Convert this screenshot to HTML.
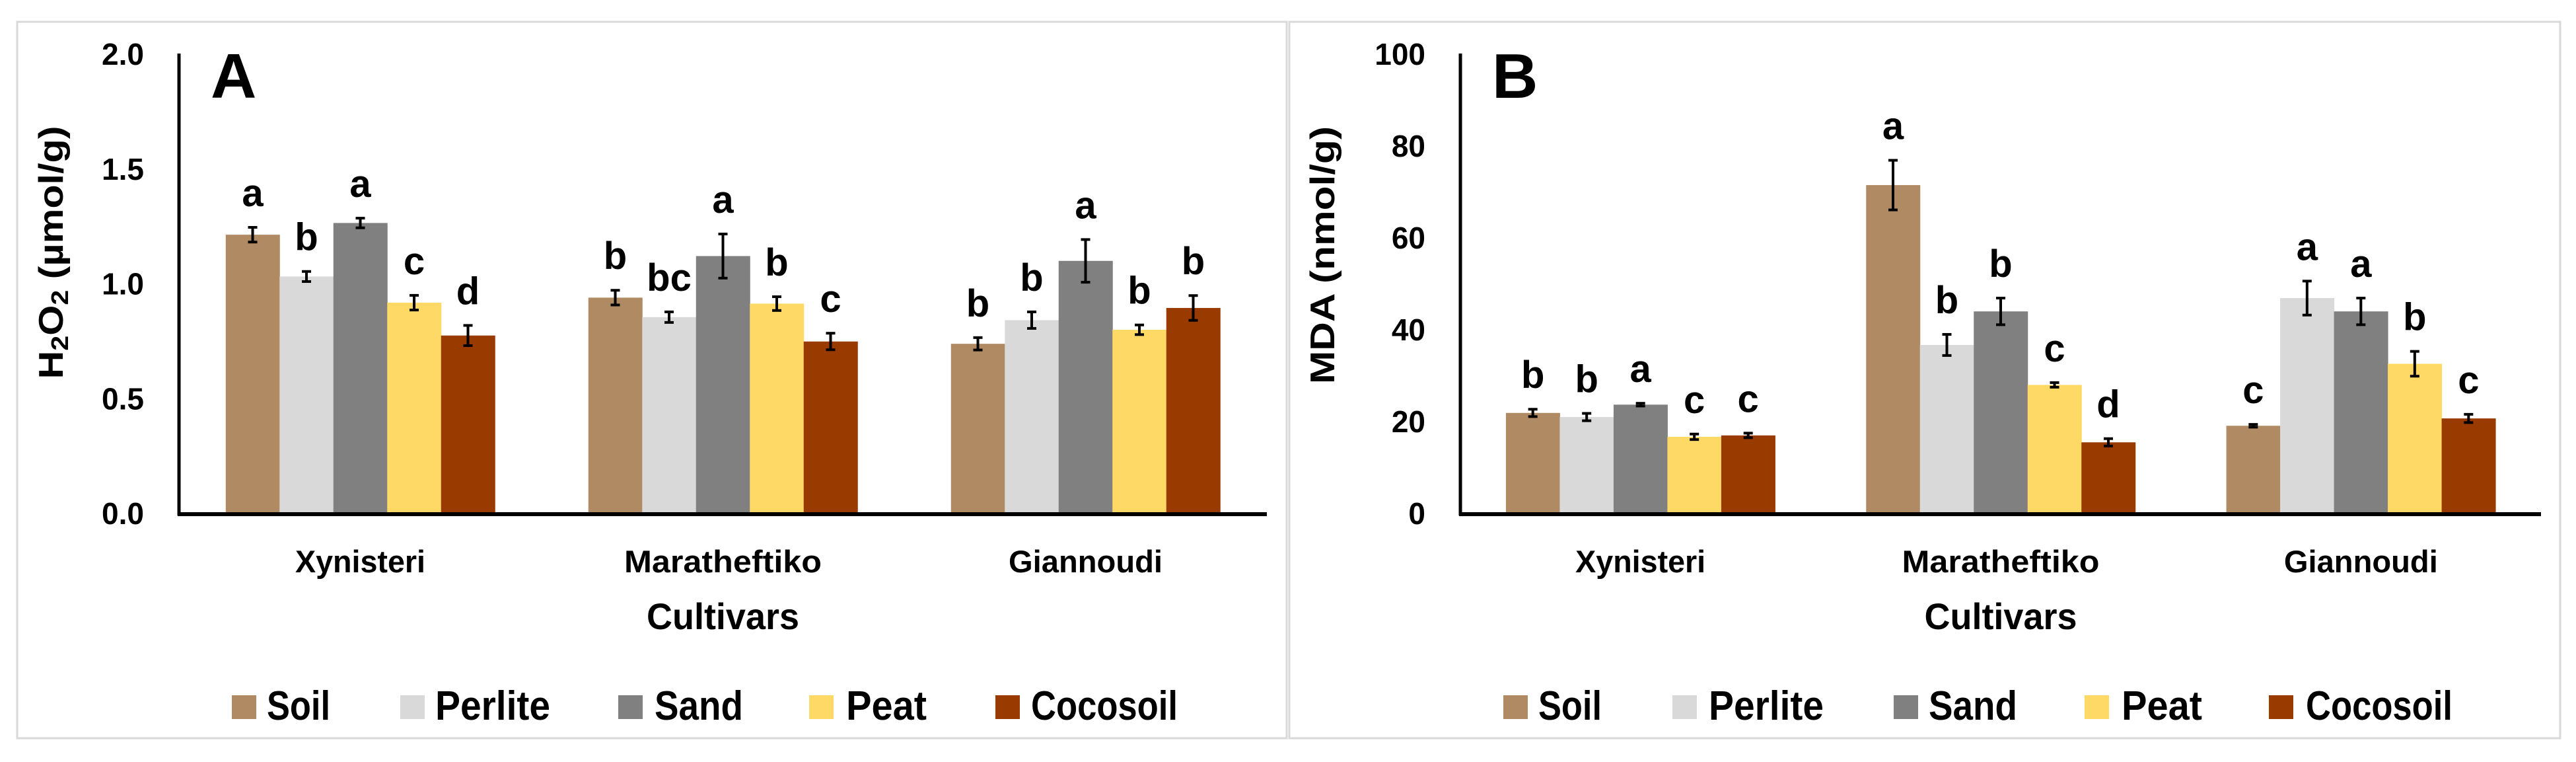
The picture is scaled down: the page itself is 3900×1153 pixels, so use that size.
<!DOCTYPE html>
<html><head><meta charset="utf-8">
<style>
html,body{margin:0;padding:0;background:#fff;}
svg{display:block;font-family:"Liberation Sans",Arial,sans-serif;font-weight:bold;}
</style></head>
<body>
<svg id="fig" width="3900" height="1153" viewBox="0 0 3900 1153" xmlns="http://www.w3.org/2000/svg"></svg>
<script>
// ---- shared data ----
const categories = ["Xynisteri", "Maratheftiko", "Giannoudi"];
const seriesNames = ["Soil", "Perlite", "Sand", "Peat", "Cocosoil"];
const seriesColors = ["#b08a63", "#d9d9d9", "#808080", "#ffd966", "#993a00"];

// ---- Panel A: H2O2 ----
const h2o2Soil     = [1.214, 0.940, 0.739];
const h2o2Perlite  = [1.032, 0.855, 0.842];
const h2o2Sand     = [1.265, 1.121, 1.100];
const h2o2Peat     = [0.918, 0.914, 0.800];
const h2o2Coco     = [0.775, 0.749, 0.895];
const h2o2ErrSoil    = [0.032, 0.032, 0.027];
const h2o2ErrPerlite = [0.022, 0.023, 0.036];
const h2o2ErrSand    = [0.021, 0.096, 0.093];
const h2o2ErrPeat    = [0.032, 0.030, 0.021];
const h2o2ErrCoco    = [0.044, 0.036, 0.054];
const h2o2LettersSoil    = ["a", "b", "b"];
const h2o2LettersPerlite = ["b", "bc", "b"];
const h2o2LettersSand    = ["a", "a", "a"];
const h2o2LettersPeat    = ["c", "b", "b"];
const h2o2LettersCoco    = ["d", "c", "b"];
const h2o2Ticks = ["0.0", "0.5", "1.0", "1.5", "2.0"];
const h2o2TickValues = [0, 0.5, 1.0, 1.5, 2.0];

// ---- Panel B: MDA ----
const mdaSoil     = [21.9, 71.5, 19.1];
const mdaPerlite  = [21.0, 36.7, 46.9];
const mdaSand     = [23.7, 44.0, 44.0];
const mdaPeat     = [16.7, 28.0, 32.6];
const mdaCoco     = [17.0, 15.5, 20.7];
const mdaErrSoil    = [0.8, 5.4, 0.3];
const mdaErrPerlite = [0.8, 2.3, 3.7];
const mdaErrSand    = [0.3, 2.9, 2.9];
const mdaErrPeat    = [0.6, 0.5, 2.7];
const mdaErrCoco    = [0.5, 0.8, 0.9];
const mdaLettersSoil    = ["b", "a", "c"];
const mdaLettersPerlite = ["b", "b", "a"];
const mdaLettersSand    = ["a", "b", "a"];
const mdaLettersPeat    = ["c", "c", "b"];
const mdaLettersCoco    = ["c", "d", "c"];
const mdaTicks = ["0", "20", "40", "60", "80", "100"];
const mdaTickValues = [0, 20, 40, 60, 80, 100];

const NS = "http://www.w3.org/2000/svg";
const svg = document.getElementById("fig");
function mk(tag, attrs, parent) {
  const e = document.createElementNS(NS, tag);
  for (const k in attrs) e.setAttribute(k, attrs[k]);
  (parent || svg).appendChild(e);
  return e;
}

function drawPanel(cfg) {
  const g = mk("g", {});
  
  
  // frame
  const fr = mk("rect", {x: cfg.frameX, y: 33, width: cfg.frameW, height: 1084, fill: "#fff", stroke: "#d9d9d9", "stroke-width": 3}, g);
  
  

  const x0 = cfg.axisX, x1 = cfg.axisEnd, yTop = 82, yZero = 777;
  const yScale = v => yZero - (v - cfg.yMin) / (cfg.yMax - cfg.yMin) * (yZero - yTop);
  const catW = (x1 - x0) / categories.length;
  const barW = 81.5;
  const xBar = (ci, si) => x0 + catW * (ci + 0.5) - barW * seriesNames.length / 2 + barW * si;

  // bars
  cfg.values.forEach((arr, si) => {
    arr.forEach((v, ci) => {
      const y = yScale(v);
      const r = mk("rect", {x: xBar(ci, si), y: y, width: barW + 0.5, height: yZero - y, fill: seriesColors[si]}, g);
      
      
    });
  });
  // error bars + letters
  cfg.values.forEach((arr, si) => {
    arr.forEach((v, ci) => {
      const cx = xBar(ci, si) + barW / 2;
      const e = cfg.errs[si][ci];
      const yt = yScale(v + e), yb = yScale(v - e);
      const eg = mk("g", {stroke: "#000", "stroke-width": 4}, g);
      
      
      mk("line", {x1: cx, x2: cx, y1: yt, y2: yb}, eg);
      mk("line", {x1: cx - 7, x2: cx + 7, y1: yt, y2: yt}, eg);
      mk("line", {x1: cx - 7, x2: cx + 7, y1: yb, y2: yb}, eg);
      const t = mk("text", {x: cx, y: yt - 32, "text-anchor": "middle", "font-size": 58}, g);
      t.textContent = cfg.letters[si][ci];
      
      
    });
  });
  // axes
  const ya = mk("line", {x1: x0, x2: x0, y1: yTop - 1, y2: yZero + 3, stroke: "#000", "stroke-width": 5}, g);
  
  
  const xa = mk("line", {x1: x0 - 2, x2: x1, y1: yZero + 1, y2: yZero + 1, stroke: "#000", "stroke-width": 6}, g);
  
  
  // ticks
  cfg.ticks.forEach((lab, i) => {
    const t = mk("text", {x: cfg.tickRight, y: yScale(cfg.tickValues[i]) + 16, "text-anchor": "end", "font-size": 46}, g);
    t.textContent = lab;
    
    
  });
  // category labels
  const catLens = [197, 299, 233];
  categories.forEach((c, ci) => {
    const t = mk("text", {x: x0 + catW * (ci + 0.5), y: 866, "text-anchor": "middle", "font-size": 47, textLength: catLens[ci], lengthAdjust: "spacingAndGlyphs"}, g);
    t.textContent = c;
    
    
  });
  // x title
  const xt = mk("text", {x: x0 + (x1 - x0) / 2, y: 952, "text-anchor": "middle", "font-size": 56, textLength: 231, lengthAdjust: "spacingAndGlyphs"}, g);
  xt.textContent = "Cultivars";
  
  
  // y title
  const yt = mk("text", {x: 0, y: 0, "text-anchor": "middle", "font-size": 52, textLength: cfg.yTitleLen, lengthAdjust: "spacingAndGlyphs", transform: "translate(" + (cfg.yTitleX + 18) + "," + cfg.yTitleY + ") rotate(-90)"}, g);
  yt.innerHTML = cfg.yTitle;
  
  
  // panel letter
  const pl = mk("text", {x: x0 + 48, y: 148, "font-size": 96}, g);
  pl.textContent = cfg.panelLetter;
  
  
  // legend
  const lg = mk("g", {}, g);
  
  
  const legLens = [96, 174, 134, 122, 222];
  seriesNames.forEach((s, si) => {
    const eg = mk("g", {}, lg);
    
    
    mk("rect", {x: cfg.legSw[si], y: 1052, width: 37, height: 36, fill: seriesColors[si]}, eg);
    const t = mk("text", {x: cfg.legTx[si], y: 1089, "font-size": 62, textLength: legLens[si], lengthAdjust: "spacingAndGlyphs"}, eg);
    t.textContent = s;
  });
}

drawPanel({
  name: "panel-a-h2o2", frameX: 26, frameW: 1922, axisX: 271, axisEnd: 1918,
  yMin: 0, yMax: 2.0, ticks: h2o2Ticks, tickValues: h2o2TickValues, tickRight: 218,
  values: [h2o2Soil, h2o2Perlite, h2o2Sand, h2o2Peat, h2o2Coco],
  errs: [h2o2ErrSoil, h2o2ErrPerlite, h2o2ErrSand, h2o2ErrPeat, h2o2ErrCoco],
  letters: [h2o2LettersSoil, h2o2LettersPerlite, h2o2LettersSand, h2o2LettersPeat, h2o2LettersCoco],
  yTitle: 'H<tspan font-size="36" dy="8">2</tspan><tspan dy="-8">O</tspan><tspan font-size="36" dy="8">2</tspan><tspan dy="-8"> (µmol/g)</tspan>',
  yTitleX: 77, yTitleY: 382, yTitleLen: 383, panelLetter: "A",
  legSw: [351, 606, 936, 1225, 1507], legTx: [404, 659, 991, 1281, 1561]
});
drawPanel({
  name: "panel-b-mda", frameX: 1952, frameW: 1924, axisX: 2211, axisEnd: 3847,
  yMin: 0, yMax: 100, ticks: mdaTicks, tickValues: mdaTickValues, tickRight: 2158,
  values: [mdaSoil, mdaPerlite, mdaSand, mdaPeat, mdaCoco],
  errs: [mdaErrSoil, mdaErrPerlite, mdaErrSand, mdaErrPeat, mdaErrCoco],
  letters: [mdaLettersSoil, mdaLettersPerlite, mdaLettersSand, mdaLettersPeat, mdaLettersCoco],
  yTitle: 'MDA (nmol/g)',
  yTitleX: 2002, yTitleY: 386, yTitleLen: 390, panelLetter: "B",
  legSw: [2276, 2532, 2867, 3156, 3435], legTx: [2329, 2587, 2920, 3212, 3491]
});
</script>
</body></html>
